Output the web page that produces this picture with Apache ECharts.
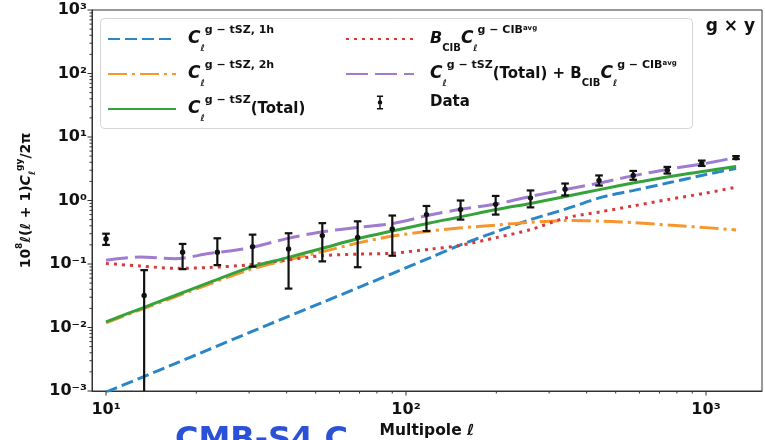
<!DOCTYPE html>
<html>
<head>
<meta charset="utf-8">
<script src="https://cdn.jsdelivr.net/npm/echarts/dist/echarts.min.js"></script>
<style>
html, body { margin: 0; padding: 0; background: #fff; }
#main { width: 765px; height: 440px; }
</style>
</head>
<body>
<div id="main"></div>
<script>
const ell = [10, 13, 17, 22, 30, 40, 52, 70, 90, 120, 150, 200, 260, 340, 450, 570, 750, 1000, 1260];
const tsz1h = [0.00096, 0.0016, 0.0027, 0.0045, 0.0083, 0.0146, 0.0242, 0.0433, 0.0708, 0.125, 0.195, 0.323, 0.50, 0.73, 1.13, 1.43, 1.90, 2.56, 3.2];
const tsz2h = [0.0118, 0.019, 0.0304, 0.048, 0.081, 0.115, 0.154, 0.217, 0.275, 0.33, 0.368, 0.41, 0.454, 0.483, 0.474, 0.449, 0.41, 0.374, 0.344];
const tszTotal = [0.0123, 0.0197, 0.0319, 0.0508, 0.0877, 0.125, 0.174, 0.254, 0.33, 0.443, 0.545, 0.72, 0.90, 1.16, 1.51, 1.88, 2.37, 2.92, 3.44];
const cibTerm = [0.102, 0.093, 0.0855, 0.088, 0.097, 0.115, 0.135, 0.143, 0.148, 0.171, 0.195, 0.26, 0.348, 0.53, 0.67, 0.82, 1.04, 1.31, 1.62];
const totalPlusCib = [0.115, 0.129, 0.121, 0.146, 0.179, 0.251, 0.318, 0.381, 0.433, 0.59, 0.72, 0.88, 1.16, 1.49, 1.92, 2.44, 3.11, 3.84, 4.78];

// measured band powers with error bars (lower of 2nd point falls off the axis)
const dataEll = [10, 13.4, 18.0, 23.5, 30.8, 40.6, 52.6, 69, 90, 117, 152, 199, 260, 339, 440, 572, 743, 968, 1259];
const dataVal = [0.248, 0.032, 0.153, 0.153, 0.188, 0.172, 0.28, 0.263, 0.357, 0.6, 0.72, 0.87, 1.1, 1.5, 2.07, 2.48, 3.0, 3.84, 4.72];
const dataLo = [0.20, 0.0001, 0.083, 0.096, 0.091, 0.041, 0.11, 0.089, 0.135, 0.33, 0.5, 0.6, 0.78, 1.2, 1.72, 2.12, 2.66, 3.5, 4.5];
const dataHi = [0.30, 0.08, 0.207, 0.254, 0.29, 0.305, 0.44, 0.47, 0.58, 0.82, 1.0, 1.18, 1.44, 1.85, 2.48, 2.92, 3.38, 4.25, 5.0];

const xMajorTicks = [10, 100, 1000];
const xMinorTicks = [20, 30, 40, 50, 60, 70, 80, 90, 200, 300, 400, 500, 600, 700, 800, 900];
const yMajorTicks = [0.001, 0.01, 0.1, 1, 10, 100, 1000];
const yMinorTicks = [];
[0.001, 0.01, 0.1, 1, 10, 100].forEach(function (d) {
	for (let k = 2; k <= 9; k++) yMinorTicks.push(d * k);
});

const FONT = "DejaVu Sans";
const INK = "#111";
const supDigits = { "0": "⁰", "1": "¹", "2": "²", "3": "³", "4": "⁴", "5": "⁵", "6": "⁶", "7": "⁷", "8": "⁸", "9": "⁹", "-": "⁻" };

function powLabel(v) {
	const e = Math.log10(v);
	if (Math.abs(e - Math.round(e)) > 1e-6) return "";
	return "10" + String(Math.round(e)).split("").map(function (c) { return supDigits[c]; }).join("");
}

const legendText = {
	"1h": "{c|C}{l|ℓ}{p|g − tSZ, 1h}",
	"2h": "{c|C}{l|ℓ}{p|g − tSZ, 2h}",
	"total": "{c|C}{l|ℓ}{p|g − tSZ}{t|(Total)}",
	"cib": "{bi|B}{s|CIB}{c|C}{l|ℓ}{p|g − CIB}{q|avg}",
	"sum": "{c|C}{l|ℓ}{p|g − tSZ}{t|(Total) + B}{s|CIB}{c|C}{l|ℓ}{p|g − CIB}{q|avg}",
	"Data": "{t|Data}"
};

const legendRich = {
	c: { fontFamily: FONT, fontSize: 17, fontWeight: "bold", fontStyle: "italic", lineHeight: 28, color: INK },
	bi: { fontFamily: FONT, fontSize: 16, fontWeight: "bold", fontStyle: "italic", lineHeight: 28, color: INK },
	t: { fontFamily: FONT, fontSize: 15, fontWeight: "bold", lineHeight: 28, color: INK },
	l: { fontFamily: FONT, fontSize: 9, fontWeight: "bold", fontStyle: "italic", verticalAlign: "bottom", lineHeight: 16, color: INK },
	s: { fontFamily: FONT, fontSize: 10, fontWeight: "bold", verticalAlign: "bottom", lineHeight: 16, color: INK },
	p: { fontFamily: FONT, fontSize: 11, fontWeight: "bold", verticalAlign: "top", lineHeight: 15, color: INK },
	q: { fontFamily: FONT, fontSize: 7, fontWeight: "bold", verticalAlign: "top", lineHeight: 20, color: INK }
};

function pairs(xs, ys) {
	return xs.map(function (x, i) { return [x, ys[i]]; });
}

function renderErrorBar(params, api) {
	const p = api.coord([api.value(0), api.value(1)]);
	const top = api.coord([api.value(0), api.value(3)])[1];
	let low = api.coord([api.value(0), api.value(2)])[1];
	const cs = params.coordSys;
	const floor = cs.y + cs.height;
	const clipped = low > floor;
	if (clipped) low = floor;
	const st = { stroke: INK, lineWidth: 2.2 };
	const kids = [
		{ type: "line", shape: { x1: p[0], y1: top, x2: p[0], y2: low }, style: st },
		{ type: "line", shape: { x1: p[0] - 3.8, y1: top, x2: p[0] + 3.8, y2: top }, style: st },
		{ type: "circle", shape: { cx: p[0], cy: p[1], r: 2.7 }, style: { fill: INK } }
	];
	if (!clipped) kids.push({ type: "line", shape: { x1: p[0] - 3.8, y1: low, x2: p[0] + 3.8, y2: low }, style: st });
	return { type: "group", children: kids };
}

function renderXTick(params, api) {
	const x = api.coord([api.value(0), 1])[0];
	const b = params.coordSys.y + params.coordSys.height;
	const len = api.value(2) ? 4.5 : 2.5;
	return { type: "line", shape: { x1: x, y1: b, x2: x, y2: b + len }, style: { stroke: "#333", lineWidth: 1 } };
}

function renderYTick(params, api) {
	const y = api.coord([100, api.value(1)])[1];
	const l = params.coordSys.x;
	const len = api.value(2) ? 4.5 : 2.5;
	return { type: "line", shape: { x1: l, y1: y, x2: l - len, y2: y }, style: { stroke: "#333", lineWidth: 1 } };
}

const xTickData = xMajorTicks.map(function (v) { return [v, 1, 1]; })
	.concat(xMinorTicks.map(function (v) { return [v, 1, 0]; }));
const yTickData = yMajorTicks.map(function (v) { return [100, v, 1]; })
	.concat(yMinorTicks.map(function (v) { return [100, v, 0]; }));

const errPath = "path://M0 0H7V1.8H0Z M2.6 1.8H4.4V14.2H2.6Z M0 14.2H7V16H0Z M0.9 8A2.6 2.6 0 1 1 6.1 8A2.6 2.6 0 1 1 0.9 8Z";

var myChart = echarts.init(document.getElementById("main"));

var option = {
	animation: false,
	backgroundColor: "#fff",
	textStyle: { fontFamily: FONT },
	title: {
		text: "g × y",
		right: 5,
		top: 13,
		textStyle: { fontFamily: FONT, fontSize: 17, fontWeight: "bold", color: INK }
	},
	grid: {
		left: 92, right: 3, top: 10, bottom: 49,
		outerBoundsMode: "none",
		containLabel: false,
		show: true, borderColor: "#333", borderWidth: 1
	},
	legend: [
		{
			left: 107, top: 25, orient: "vertical", padding: 0,
			itemWidth: 68, itemHeight: 14, itemGap: 7, selectedMode: false,
			itemStyle: { opacity: 0 },
			data: ["1h", "2h", "total"],
			formatter: function (n) { return legendText[n]; },
			textStyle: { rich: legendRich, padding: [0, 0, 0, 7] }
		},
		{
			left: 345, top: 25, orient: "vertical", padding: 0,
			itemWidth: 68, itemHeight: 14, itemGap: 7, selectedMode: false,
			itemStyle: { opacity: 0 },
			data: ["cib", "sum", { name: "Data", icon: errPath, itemStyle: { opacity: 1 } }],
			formatter: function (n) { return legendText[n]; },
			textStyle: { rich: legendRich, padding: [0, 0, 0, 11] }
		}
	],
	graphic: [
		{
			type: "rect", left: 100, top: 18, z: 0,
			shape: { width: 592, height: 110, r: 4 },
			style: { fill: "rgba(255,255,255,0.85)", stroke: "#d6d6d6", lineWidth: 1 }
		},
		{
			type: "text", left: 175, top: 425,
			style: { text: "CMB-S4 C", font: 'bold 32px "DejaVu Sans"', fill: "#2b52d6" }
		}
	],
	xAxis: {
		type: "log",
		logBase: 10,
		min: 8.98,
		max: 1537,
		name: "{a|Multipole }{i|ℓ}",
		nameLocation: "middle",
		nameGap: 31,
		nameTextStyle: {
			rich: {
				a: { fontFamily: FONT, fontSize: 15.5, fontWeight: "bold", color: INK },
				i: { fontFamily: FONT, fontSize: 15.5, fontWeight: "bold", fontStyle: "italic", color: INK }
			}
		},
		axisLine: { show: true, lineStyle: { color: "#333", width: 1 } },
		axisTick: { show: false },
		splitLine: { show: false },
		axisLabel: {
			margin: 11,
			formatter: powLabel,
			fontFamily: FONT, fontSize: 16, fontWeight: "bold", color: INK
		}
	},
	yAxis: {
		type: "log",
		logBase: 10,
		min: 0.001,
		max: 1000,
		name: "{a|10}{s|8}{i|ℓ}{a|(}{i|ℓ}{a| + 1)}{i|C}{b|ℓ}{s|gy}{a|/2π}",
		nameLocation: "middle",
		nameRotate: 90,
		nameGap: 55,
		nameTextStyle: {
			rich: {
				a: { fontFamily: FONT, fontSize: 14, fontWeight: "bold", lineHeight: 22, color: INK },
				i: { fontFamily: FONT, fontSize: 14, fontWeight: "bold", fontStyle: "italic", lineHeight: 22, color: INK },
				s: { fontFamily: FONT, fontSize: 9, fontWeight: "bold", verticalAlign: "top", lineHeight: 11, color: INK },
				b: { fontFamily: FONT, fontSize: 9, fontWeight: "bold", fontStyle: "italic", verticalAlign: "bottom", lineHeight: 11, color: INK }
			}
		},
		axisLine: { show: true, lineStyle: { color: "#333", width: 1 } },
		axisTick: { show: false },
		splitLine: { show: false },
		axisLabel: {
			margin: 5,
			formatter: powLabel,
			fontFamily: FONT, fontSize: 16, fontWeight: "bold", color: INK
		}
	},
	series: [
		{
			name: "1h", type: "line", data: pairs(ell, tsz1h), symbol: "none", smooth: 0.3, z: 3,
			lineStyle: { color: "#2b86c8", width: 3, type: [12, 5] }, itemStyle: { color: "#2b86c8" }
		},
		{
			name: "2h", type: "line", data: pairs(ell, tsz2h), symbol: "none", smooth: 0.3, z: 3,
			lineStyle: { color: "#f7962f", width: 3, type: [19, 5, 3, 5] }, itemStyle: { color: "#f7962f" }
		},
		{
			name: "total", type: "line", data: pairs(ell, tszTotal), symbol: "none", smooth: 0.3, z: 4,
			lineStyle: { color: "#36a33a", width: 3 }, itemStyle: { color: "#36a33a" }
		},
		{
			name: "cib", type: "line", data: pairs(ell, cibTerm), symbol: "none", smooth: 0.3, z: 3,
			lineStyle: { color: "#d83a3c", width: 3, type: [3, 5] }, itemStyle: { color: "#d83a3c" }
		},
		{
			name: "sum", type: "line", data: pairs(ell, totalPlusCib), symbol: "none", smooth: 0.3, z: 4,
			lineStyle: { color: "#a07cd0", width: 3, type: [22, 7] }, itemStyle: { color: "#a07cd0" }
		},
		{
			name: "Data", type: "custom", z: 6,
			itemStyle: { color: INK },
			encode: { x: 0, y: 1 },
			data: dataEll.map(function (l, i) { return [l, dataVal[i], dataLo[i], dataHi[i]]; }),
			renderItem: renderErrorBar
		},
		{
			name: "xticks", type: "custom", clip: false, silent: true, z: 5,
			encode: { x: 0, y: 1 },
			data: xTickData,
			renderItem: renderXTick
		},
		{
			name: "yticks", type: "custom", clip: false, silent: true, z: 5,
			encode: { x: 0, y: 1 },
			data: yTickData,
			renderItem: renderYTick
		}
	]
};

myChart.setOption(option);
</script>
</body>
</html>
